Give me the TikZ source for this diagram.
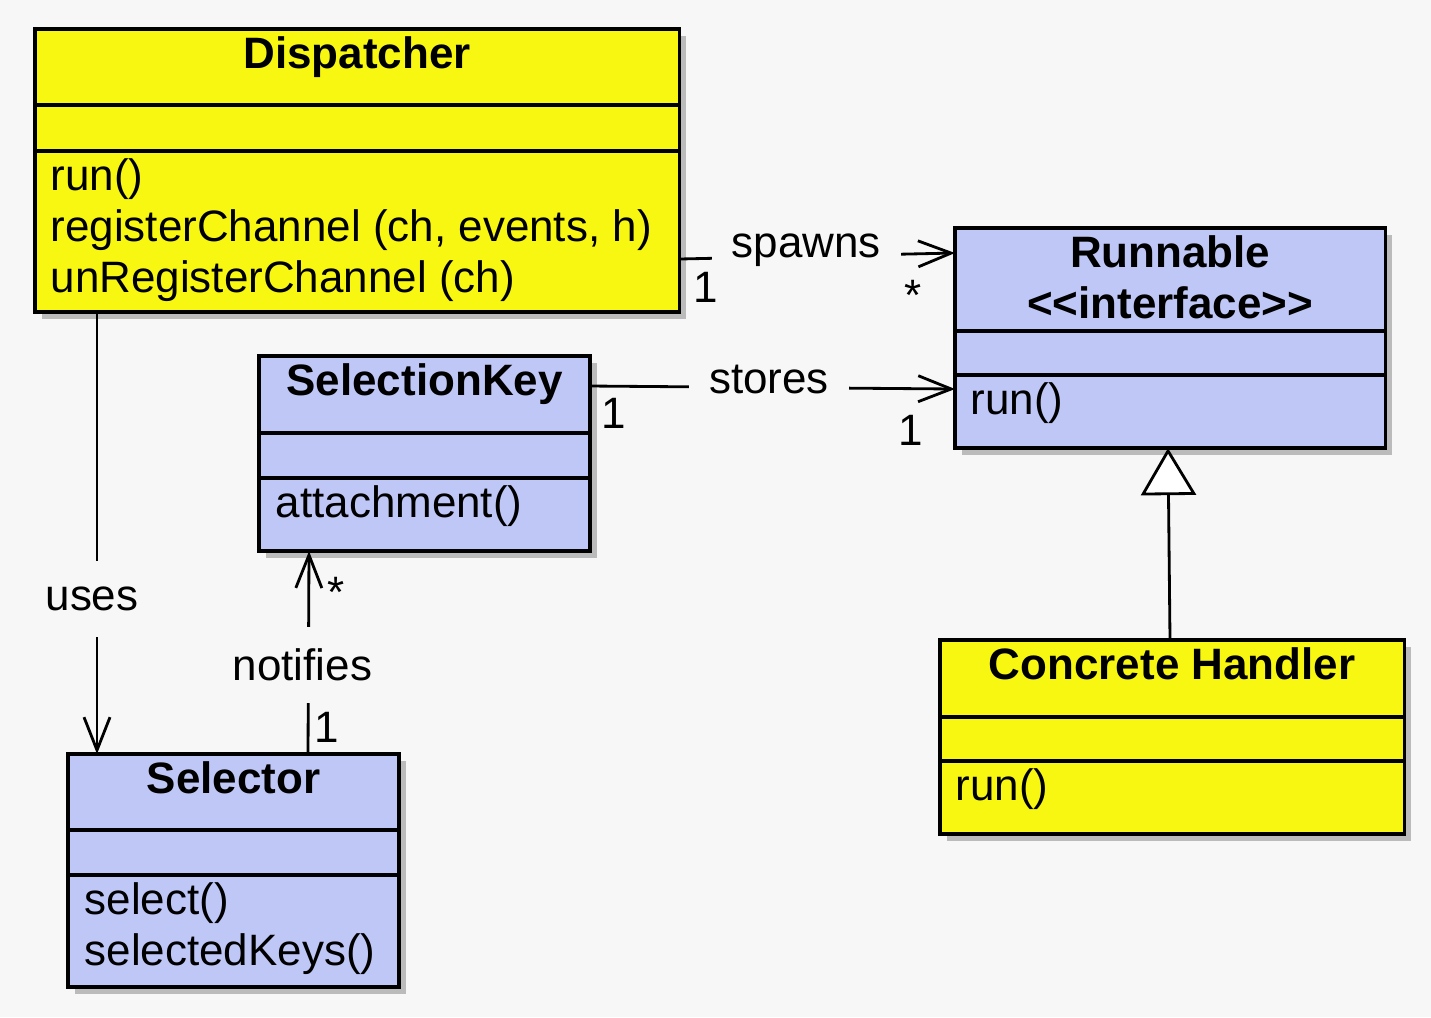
\documentclass[tikz,border=0pt]{standalone}
\usepackage{fontspec}
\setmainfont{Liberation Sans}
\usepackage{tikz}
\usetikzlibrary{arrows.meta, positioning, shadows}
\definecolor{classyellow}{HTML}{F8F712}
\definecolor{classblue}{HTML}{BFC7F6}
\definecolor{paper}{HTML}{F7F7F7}
\newcommand{\umlfont}{\fontsize{12.5}{14.5}\selectfont}
\tikzset{
  classbox/.style={draw=black, line width=1pt, anchor=north west, inner sep=0pt, outer sep=0pt,
    drop shadow={shadow xshift=0.07cm, shadow yshift=-0.07cm, opacity=0.35, fill=black!70}},
  divider/.style={line width=1pt},
  classname/.style={anchor=north, align=center, inner sep=0pt, font=\umlfont\bfseries},
  classops/.style={anchor=north west, align=left, inner sep=0pt},
  linklabel/.style={fill=paper, inner xsep=0.2cm, inner ysep=0pt, minimum height=0.76cm},
  mult/.style={inner sep=0pt},
  assoc/.style={line width=0.8pt, -{Straight Barb[length=0.33cm, width=0.26cm]}},
  realizes/.style={line width=0.8pt, -{Triangle[open, fill=white, length=0.47cm, width=0.55cm]}}
}
\begin{document}
\begin{tikzpicture}[x=0.01cm, y=-0.01cm, font=\umlfont]
    % canvas
    \fill[paper] (0,0) rectangle (1431,1017);

    % Dispatcher
    \node[classbox, fill=classyellow, minimum width=6.44cm, minimum height=2.83cm] (dispatcher) at (35,29) {};
    \draw[divider] ([shift={(0,76)}]dispatcher.north west) -- ([shift={(0,76)}]dispatcher.north east);
    \draw[divider] ([shift={(0,122)}]dispatcher.north west) -- ([shift={(0,122)}]dispatcher.north east);
    \node[classname] (dispatchername) at ([shift={(0,7)}]dispatcher.north) {Dispatcher};
    \node[classops] (dispatcherops) at ([shift={(15,129)}]dispatcher.north west) {run()\\registerChannel (ch, events, h)\\unRegisterChannel (ch)};

    % Runnable
    \node[classbox, fill=classblue, minimum width=4.30cm, minimum height=2.20cm] (runnable) at (955,228) {};
    \draw[divider] ([shift={(0,103)}]runnable.north west) -- ([shift={(0,103)}]runnable.north east);
    \draw[divider] ([shift={(0,147)}]runnable.north west) -- ([shift={(0,147)}]runnable.north east);
    \node[classname] (runnablename) at ([shift={(0,7)}]runnable.north) {Runnable\\<\kern0pt<interface>\kern0pt>};
    \node[classops] (runnableops) at ([shift={(15,154)}]runnable.north west) {run()};

    % SelectionKey
    \node[classbox, fill=classblue, minimum width=3.31cm, minimum height=1.95cm] (selectionkey) at (259,356) {};
    \draw[divider] ([shift={(0,77)}]selectionkey.north west) -- ([shift={(0,77)}]selectionkey.north east);
    \draw[divider] ([shift={(0,122)}]selectionkey.north west) -- ([shift={(0,122)}]selectionkey.north east);
    \node[classname] (selectionkeyname) at ([shift={(0,7)}]selectionkey.north) {SelectionKey};
    \node[classops] (selectionkeyops) at ([shift={(16,129)}]selectionkey.north west) {attachment()};

    % Selector
    \node[classbox, fill=classblue, minimum width=3.31cm, minimum height=2.33cm] (selector) at (68,754) {};
    \draw[divider] ([shift={(0,76)}]selector.north west) -- ([shift={(0,76)}]selector.north east);
    \draw[divider] ([shift={(0,121)}]selector.north west) -- ([shift={(0,121)}]selector.north east);
    \node[classname] (selectorname) at ([shift={(0,7)}]selector.north) {Selector};
    \node[classops] (selectorops) at ([shift={(16,128)}]selector.north west) {select()\\selectedKeys()};

    % Concrete Handler
    \node[classbox, fill=classyellow, minimum width=4.64cm, minimum height=1.94cm] (handler) at (940,640) {};
    \draw[divider] ([shift={(0,77)}]handler.north west) -- ([shift={(0,77)}]handler.north east);
    \draw[divider] ([shift={(0,121)}]handler.north west) -- ([shift={(0,121)}]handler.north east);
    \node[classname] (handlername) at ([shift={(0,7)}]handler.north) {Concrete Handler};
    \node[classops] (handlerops) at ([shift={(15,128)}]handler.north west) {run()};

    % associations
    \draw[assoc] ([shift={(0,230)}]dispatcher.north east) -- node[linklabel, pos=0.46, yshift=0.06cm] (spawnslabel) {spawns} ([shift={(0,25)}]runnable.north west);
    \draw[assoc] ([shift={(0,30)}]selectionkey.north east) -- node[linklabel, pos=0.49, yshift=0.08cm] (storeslabel) {stores} ([shift={(0,161)}]runnable.north west);
    \draw[assoc] ([shift={(62,0)}]dispatcher.south west) -- node[linklabel, pos=0.65, xshift=-0.05cm] (useslabel) {uses} ([shift={(29,0)}]selector.north west);
    \draw[assoc] ([shift={(240,0)}]selector.north west) -- node[linklabel, pos=0.44, xshift=-0.06cm] (notifieslabel) {notifies} ([shift={(50,0)}]selectionkey.south west);
    \draw[realizes] ([shift={(230,0)}]handler.north west) -- ([shift={(213,0)}]runnable.south west);

    % multiplicities
    \node[mult] (spawnsfrom) at (706,287) {1};
    \node[mult] (spawnsto) at (913,295) {*};
    \node[mult] (storesfrom) at (614,413) {1};
    \node[mult] (storesto) at (911,430) {1};
    \node[mult] (notifiesto) at (336,592) {*};
    \node[mult] (notifiesfrom) at (327,727) {1};
\end{tikzpicture}
\end{document}
